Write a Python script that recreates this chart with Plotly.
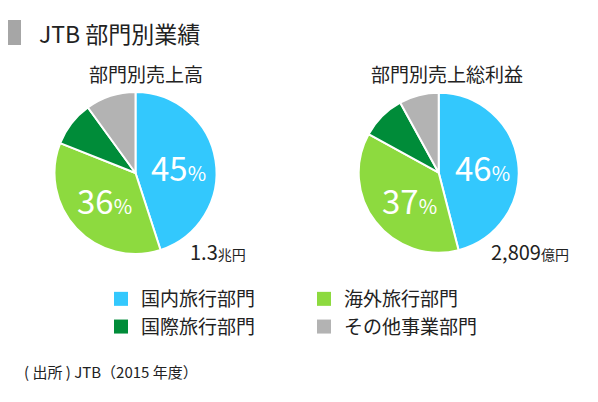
import plotly.graph_objects as go

categories = ["国内旅行部門", "海外旅行部門", "国際旅行部門", "その他事業部門"]
sales_share = [45, 36, 9, 10]      # 部門別売上高 (%)
profit_share = [46, 37, 9, 8]      # 部門別売上総利益 (%)
sales_total = ("1.3", "兆円")
profit_total = ("2,809", "億円")
colors = ["#33C8FD", "#8DDA3F", "#008C39", "#B3B3B3"]

# the page has an 8px body margin, so the figure is a bit smaller than the window
OFF = 8
W, H = 598 - OFF, 402 - OFF
ML, MR = 42, 73
GW = W - ML - MR
FONT = "Noto Sans CJK JP"


# window pixel -> paper (plot area) helpers
def px(x):
    return (x - OFF - ML) / GW


def py(y):
    return 1 - (y - OFF) / H


def dom(cx, cy, r):
    return dict(x=[px(cx - r), px(cx + r)], y=[py(cy + r), py(cy - r)])


fig = go.Figure()

for vals, d in [(sales_share, dom(135.5, 173, 81)), (profit_share, dom(438.7, 172.7, 80))]:
    fig.add_trace(go.Pie(
        labels=categories, values=vals, domain=d,
        sort=False, direction="clockwise", rotation=0,
        marker=dict(colors=colors, line=dict(color="white", width=2)),
        textinfo="none", showlegend=False, hoverinfo="label+value",
    ))

# legend entries as square markers
for cat, c in zip(categories, colors):
    fig.add_trace(go.Scatter(
        x=[None], y=[None], mode="markers", name=cat,
        marker=dict(symbol="square", size=14, color=c),
    ))

pct = "<span style='font-size:20px'>%</span>"
ann = [
    dict(x=px(37), y=py(33), text="JTB 部門別業績", xanchor="left",
         font=dict(size=23, color="#222")),
    dict(x=px(146), y=py(73), text="部門別売上高", font=dict(size=19, color="#222")),
    dict(x=px(447), y=py(73), text="部門別売上総利益", font=dict(size=19, color="#222")),
    dict(x=px(178), y=py(167), text=f"{sales_share[0]}{pct}", font=dict(size=33, color="white")),
    dict(x=px(104), y=py(200), text=f"{sales_share[1]}{pct}", font=dict(size=33, color="white")),
    dict(x=px(482), y=py(167), text=f"{profit_share[0]}{pct}", font=dict(size=33, color="white")),
    dict(x=px(409), y=py(200), text=f"{profit_share[1]}{pct}", font=dict(size=33, color="white")),
    dict(x=px(188), y=py(251), xanchor="left",
         text=f"{sales_total[0]}<span style='font-size:14px'>{sales_total[1]}</span>",
         font=dict(size=20, color="#222")),
    dict(x=px(489), y=py(251), xanchor="left",
         text=f"{profit_total[0]}<span style='font-size:14px'>{profit_total[1]}</span>",
         font=dict(size=20, color="#222")),
    dict(x=px(22), y=py(371), xanchor="left", text="( 出所 ) JTB（2015 年度）",
         font=dict(size=15, color="#222")),
]
for a in ann:
    a.setdefault("xanchor", "center")
    a.update(xref="paper", yref="paper", showarrow=False, yanchor="middle")

fig.update_layout(
    width=W, height=H,
    margin=dict(l=ML, r=MR, t=0, b=0),
    paper_bgcolor="white", plot_bgcolor="white",
    font=dict(family=FONT, color="#222"),
    xaxis=dict(visible=False), yaxis=dict(visible=False),
    annotations=ann,
    shapes=[dict(type="rect", xref="paper", yref="paper",
                 x0=px(8), x1=px(21), y0=py(45), y1=py(20),
                 fillcolor="#A6A6A6", line=dict(width=0))],
    legend=dict(orientation="h", x=px(101), xanchor="left", y=py(280), yanchor="top",
                font=dict(size=19, color="#222"), entrywidth=158, entrywidthmode="pixels",
                bgcolor="rgba(0,0,0,0)", itemclick=False, itemdoubleclick=False),
)

fig.write_html("out.html")
